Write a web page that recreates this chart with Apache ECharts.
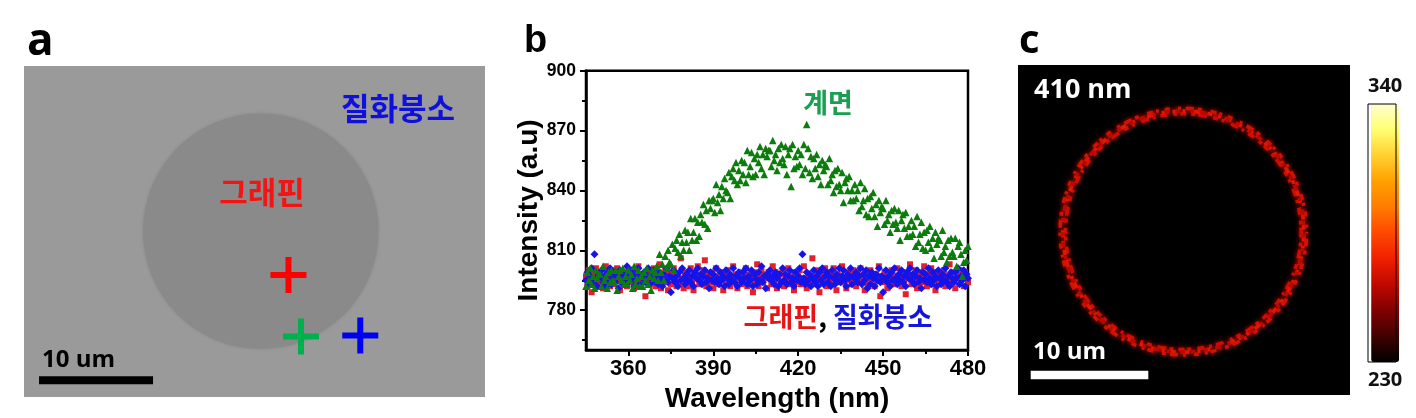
<!DOCTYPE html>
<html>
<head>
<meta charset="utf-8">
<script src="https://cdn.jsdelivr.net/npm/echarts@6/dist/echarts.min.js"></script>
<style>
html,body{margin:0;padding:0;background:#fff;}
#main{width:1416px;height:418px;}
</style>
</head>
<body>
<div id="main"></div>
<script>
// ---------------- Panel b : PL spectra ----------------
const WL_START = 345;   // nm, first sample
const WL_STEP = 0.5;    // nm, sampling step
const xMajorTicks = [360, 390, 420, 450, 480];
const xMinorTicks = [375, 405, 435, 465];
const yMajorTicks = [780, 810, 840, 870, 900];
const yMinorTicks = [765, 795, 825, 855, 885];

// 계면 (interface) intensity
const interfaceIntensity = [
 792,799,795,801,793,797,791,800,796,798,
 798,792,802,795,797,791,799,794,800,795,
 794,800,790,797,800,795,801,793,797,793,
 800,795,798,791,802,793,796,800,792,797,
 792,799,795,801,793,797,790,800,796,799,
 802,795,808,799,803,795,807,801,810,804,
 803,813,800,811,815,809,818,807,814,810,
 820,814,819,810,826,815,819,826,815,824,
 817,828,824,833,823,830,821,835,831,835,
 836,829,843,834,838,830,842,836,846,840,
 839,849,836,847,851,845,854,843,850,845,
 855,848,854,844,860,848,852,859,847,856,
 848,858,854,862,851,858,848,861,857,860,
 860,852,865,855,858,850,861,854,863,856,
 853,862,848,858,861,842,863,851,857,852,
 860,853,858,848,863,851,873,861,849,857,
 846,856,851,858,847,853,843,855,850,853,
 852,843,856,845,848,839,850,842,851,843,
 840,849,834,844,846,840,847,835,840,835,
 843,836,840,830,844,832,835,841,828,836,
 827,837,831,839,827,833,822,835,829,832,
 831,823,835,825,828,819,830,823,831,824,
 821,830,815,825,828,821,829,817,822,817,
 825,818,822,812,827,814,818,824,811,819,
 810,820,814,822,811,816,806,819,813,816,
 815,807,820,809,812,804,815,807,816,809,
 807,816,802,812,814,808,797,804,810,805,
 812
];
// 그래핀 (graphene) intensity
const grapheneIntensity = [
 797,792,800,795,789,798,794,801,796,793,
 799,795,791,797,802,794,798,792,796,800,
 793,797,801,795,790,798,796,794,799,792,
 796,800,794,797,791,799,795,802,793,797,
 794,798,787,796,800,793,797,795,801,792,
 798,795,803,791,797,794,800,796,790,799,
 793,797,801,795,792,798,794,806,796,791,
 799,795,792,797,801,794,790,798,796,802,
 793,797,795,800,805,792,798,796,794,799,
 791,797,801,795,793,799,796,790,798,794,
 800,795,792,797,802,794,798,791,796,799,
 793,797,795,801,792,798,794,796,789,799,
 795,803,792,797,800,794,798,796,791,799,
 797,793,802,795,799,791,796,798,794,800,
 792,797,795,801,793,798,796,790,799,794,
 797,800,793,796,802,795,791,798,794,797,
 806,793,797,800,795,789,798,794,796,801,
 792,797,795,799,793,801,796,790,798,794,
 797,802,794,796,791,799,795,798,793,800,
 795,792,798,796,801,794,797,790,799,793,
 796,800,794,797,792,798,795,802,787,797,
 794,799,796,791,798,795,800,793,797,796,
 801,794,797,792,799,795,788,798,796,803,
 793,797,795,800,791,798,796,794,799,802,
 796,792,798,795,801,793,797,790,799,795,
 798,794,796,800,792,797,795,803,793,799,
 795,791,798,796,800,794,797,792,799,796,
 794
];
// 질화붕소 (hBN) intensity
const hbnIntensity = [
 795,799,793,797,801,794,808,796,792,798,
 796,800,794,797,792,799,795,801,793,797,
 799,794,797,791,800,796,793,798,795,802,
 794,797,800,795,792,798,796,801,793,797,
 796,799,794,797,801,793,798,795,800,794,
 797,793,799,796,792,798,795,801,794,797,
 789,796,800,794,797,792,799,795,801,796,
 793,798,795,800,794,797,792,799,796,801,
 795,798,793,797,800,794,796,791,799,795,
 798,794,801,796,793,799,795,797,792,800,
 796,793,798,795,801,794,797,792,799,796,
 794,799,796,801,793,797,795,800,792,798,
 796,793,799,795,802,794,797,791,798,796,
 800,795,797,793,799,796,792,798,794,801,
 795,798,793,797,800,794,796,792,799,795,
 797,801,794,808,796,793,799,795,798,792,
 796,800,794,797,792,799,795,801,793,797,
 799,794,797,792,800,796,793,798,795,801,
 794,797,800,795,792,798,796,801,793,797,
 796,799,794,797,801,793,798,795,800,791,
 797,793,799,796,792,798,795,801,794,797,
 789,796,800,794,797,792,799,795,801,796,
 793,798,795,800,794,797,792,799,796,801,
 795,798,793,797,800,794,796,791,799,795,
 798,794,801,796,793,799,795,797,792,800,
 796,793,798,795,801,794,797,792,799,796,
 794,799,796,801,793,797,795,800,792,798,
 796
];

// ---------------- Panel a : optical image (um units) ----------------
const imageAWidthUm = 40.44, imageAHeightUm = 29.04;
const grapheneFlake = [[20.77, 14.55, 10.3]];        // cx, cy, radius (um)
const measurePoints = [[23.2, 10.7], [24.3, 5.3], [29.5, 5.4]]; // graphene, interface, hBN
const measureColors = ['#ff0000', '#00b04c', '#0000f0'];
const scaleBarA = [[1.32, 1.46, 10]];                 // x0, y, length (um)

// ---------------- Panel c : PL map at 410 nm ----------------
const imageCWidthUm = 28.23, imageCHeightUm = 28.06;
const ringLayers = [                                   // cx, cy, radius (um), intensity
 [14.06, 13.89, 10.02, 266],
 [14.06, 13.89, 10.25, 272],
 [14.06, 13.89, 10.48, 268],
 [14.06, 13.89, 10.25, 262]
];
const scaleBarC = [[1.08, 1.70, 10]];
const colorbarRange = [230, 340];

const pair = arr => arr.map((v, i) => [WL_START + WL_STEP * i, v]);

const boldLab = 'Liberation Sans';
const chart = echarts.init(document.getElementById('main'), null, {renderer: 'canvas'});

const plus = 'path://M15,0H21V15H36V21H21V36H15V21H0V15H15Z';
const dashes = [
  [6,5,4,3,9,6,5,4,3,7,8,4,3,5,7,6,4,3],
  [4,7,6,4,3,8,9,5,5,6,3,4,7,8],
  [5,8,3,5,8,4,4,9,6,3,3,6],
  [3,9,5,6,4,11,3,7,6,8]
];

const option = {
  animation: false,
  grid: [
    {left: 24, top: 66, width: 461, height: 331, show: true, backgroundColor: '#9a9a9a', borderWidth: 0},
    {left: 586, top: 70.7, width: 382, height: 280.3, show: true, borderColor: '#000', borderWidth: 2.5},
    {left: 1018, top: 65, width: 332, height: 330, show: true, backgroundColor: '#000', borderWidth: 0}
  ],
  xAxis: [
    {gridIndex: 0, type: 'value', min: 0, max: imageAWidthUm, show: false},
    {gridIndex: 1, type: 'value', min: 345, max: 480, position: 'bottom',
      axisLine: {lineStyle: {color: '#000', width: 2.5}},
      axisTick: {show: true, customValues: xMajorTicks, length: 6, lineStyle: {color: '#000', width: 2}},
      axisLabel: {customValues: xMajorTicks, color: '#000', fontSize: 22, fontWeight: 'bold', fontFamily: boldLab, margin: 8},
      splitLine: {show: false},
      name: 'Wavelength (nm)', nameLocation: 'middle', nameGap: 28,
      nameTextStyle: {color: '#000', fontSize: 28, fontWeight: 'bold', fontFamily: boldLab}
    },
    {gridIndex: 1, type: 'value', min: 345, max: 480, position: 'bottom',
      axisLine: {show: false},
      axisTick: {show: true, customValues: xMinorTicks, length: 4, lineStyle: {color: '#000', width: 2}},
      axisLabel: {show: false}, splitLine: {show: false}
    },
    {gridIndex: 2, type: 'value', min: 0, max: imageCWidthUm, show: false}
  ],
  yAxis: [
    {gridIndex: 0, type: 'value', min: 0, max: imageAHeightUm, show: false},
    {gridIndex: 1, type: 'value', min: 760, max: 900, position: 'left',
      axisLine: {show: true, lineStyle: {color: '#000', width: 2.5}},
      axisTick: {show: true, customValues: yMajorTicks, length: 6, lineStyle: {color: '#000', width: 2}},
      axisLabel: {customValues: yMajorTicks, color: '#000', fontSize: 17.5, fontWeight: 'bold', fontFamily: boldLab, margin: 10},
      splitLine: {show: false},
      name: 'Intensity (a.u)', nameLocation: 'middle', nameGap: 43,
      nameTextStyle: {color: '#000', fontSize: 28, fontWeight: 'bold', fontFamily: boldLab}
    },
    {gridIndex: 1, type: 'value', min: 760, max: 900, position: 'left',
      axisLine: {show: false},
      axisTick: {show: true, customValues: yMinorTicks, length: 4, lineStyle: {color: '#000', width: 2}},
      axisLabel: {show: false}, splitLine: {show: false}
    },
    {gridIndex: 2, type: 'value', min: 0, max: imageCHeightUm, show: false}
  ],
  visualMap: [{
    type: 'continuous', min: colorbarRange[0], max: colorbarRange[1],
    seriesIndex: 6, dimension: 3, calculable: false, orient: 'vertical',
    left: 1368, top: 76, itemWidth: 28, itemHeight: 258, padding: 0, textGap: 8,
    text: [String(colorbarRange[1]), String(colorbarRange[0])],
    textStyle: {color: '#111', fontSize: 20, fontWeight: 'bold', fontFamily: 'Open Sans'},
    inRange: {color: ['#000000','#400000','#800000','#c00800','#f02000','#ff4800','#ff7c00','#ffa000','#ffd030','#ffff70','#ffffd0']}
  }],
  series: [
    {type: 'custom', xAxisIndex: 0, yAxisIndex: 0, data: grapheneFlake, silent: true,
      renderItem: (p, api) => {
        const c = api.coord([api.value(0), api.value(1)]);
        const r = api.size([api.value(2), 0])[0];
        return {type: 'circle', shape: {cx: c[0], cy: c[1], r: r},
          style: {fill: '#8a8a8a', shadowBlur: 3, shadowColor: 'rgba(110,110,110,0.6)'}};
      }},
    {type: 'scatter', xAxisIndex: 0, yAxisIndex: 0, symbol: plus, symbolSize: 36, silent: true, z: 5,
      data: measurePoints.map((d, i) => ({value: d, itemStyle: {color: measureColors[i], opacity: 1}}))},
    {type: 'custom', xAxisIndex: 0, yAxisIndex: 0, data: scaleBarA, silent: true,
      renderItem: (p, api) => {
        const c = api.coord([api.value(0), api.value(1)]);
        const w = api.size([api.value(2), 0])[0];
        return {type: 'rect', shape: {x: c[0], y: c[1] - 4, width: w, height: 8}, style: {fill: '#000'}};
      }},
    {type: 'scatter', xAxisIndex: 1, yAxisIndex: 1, symbol: 'rect', symbolSize: 6, silent: true,
      itemStyle: {color: '#e4202c', opacity: 1}, data: pair(grapheneIntensity)},
    {type: 'scatter', xAxisIndex: 1, yAxisIndex: 1, symbol: 'diamond', symbolSize: 8, silent: true,
      itemStyle: {color: '#1414ea', opacity: 1}, data: pair(hbnIntensity)},
    {type: 'scatter', xAxisIndex: 1, yAxisIndex: 1, symbol: 'triangle', symbolSize: 7.5, silent: true,
      itemStyle: {color: '#0c7c0c', opacity: 1}, data: pair(interfaceIntensity)},
    {type: 'custom', xAxisIndex: 3, yAxisIndex: 3, data: ringLayers, silent: true,
      renderItem: (p, api) => {
        const c = api.coord([api.value(0), api.value(1)]);
        const r = api.size([api.value(2), 0])[0];
        const col = api.visual('color');
        return {type: 'circle', shape: {cx: c[0], cy: c[1], r: r},
          style: {fill: 'none', stroke: col, lineWidth: 3.6, lineDash: dashes[p.dataIndex % dashes.length],
            lineDashOffset: p.dataIndex * 7, shadowBlur: 5, shadowColor: col}};
      }},
    {type: 'custom', xAxisIndex: 3, yAxisIndex: 3, data: scaleBarC, silent: true,
      renderItem: (p, api) => {
        const c = api.coord([api.value(0), api.value(1)]);
        const w = api.size([api.value(2), 0])[0];
        return {type: 'rect', shape: {x: c[0], y: c[1] - 4.3, width: w, height: 8.6}, style: {fill: '#fff'}};
      }}
  ],
  graphic: [
    {type: 'text', z: 100, x: 27, y: 42, style: {text: 'a', fill: '#000', font: 'bold 44px "Open Sans"', verticalAlign: 'middle'}},
    {type: 'text', z: 100, x: 524, y: 42, style: {text: 'b', fill: '#000', font: 'bold 38px "Liberation Sans"', verticalAlign: 'middle'}},
    {type: 'text', z: 100, x: 1019, y: 42, style: {text: 'c', fill: '#000', font: 'bold 40px "Open Sans"', verticalAlign: 'middle'}},
    {type: 'text', z: 100, x: 398, y: 108, style: {text: '질화붕소', fill: '#1010dc', font: 'bold 31px "Noto Sans CJK KR"', align: 'center', verticalAlign: 'middle'}},
    {type: 'text', z: 100, x: 262, y: 192, style: {text: '그래핀', fill: '#f41414', font: 'bold 31px "Noto Sans CJK KR"', align: 'center', verticalAlign: 'middle'}},
    {type: 'text', z: 100, x: 42, y: 360, style: {text: '10 um', fill: '#000', font: 'bold 24px "Open Sans"', verticalAlign: 'middle'}},
    {type: 'text', z: 100, x: 828, y: 103, style: {text: '계면', fill: '#18a050', font: 'bold 27px "Noto Sans CJK KR"', align: 'center', verticalAlign: 'middle'}},
    {type: 'text', z: 100, x: 838, y: 317, style: {text: '{r|그래핀}{k|, }{b|질화붕소}', align: 'center', verticalAlign: 'middle',
      rich: {
        r: {fill: '#e81414', fontSize: 27, fontWeight: 'bold', fontFamily: 'Noto Sans CJK KR'},
        k: {fill: '#000', fontSize: 27, fontWeight: 'bold', fontFamily: 'Noto Sans CJK KR'},
        b: {fill: '#1414dc', fontSize: 27, fontWeight: 'bold', fontFamily: 'Noto Sans CJK KR'}
      }}},
    {type: 'text', z: 100, x: 1034, y: 90, style: {text: '410 nm', fill: '#fff', font: 'bold 27px "Open Sans"', verticalAlign: 'middle'}},
    {type: 'text', z: 100, x: 1033, y: 352, style: {text: '10 um', fill: '#fff', font: 'bold 24px "Open Sans"', verticalAlign: 'middle'}},
    {type: 'rect', shape: {x: 1368, y: 104, width: 28, height: 258}, style: {fill: 'none', stroke: '#000', lineWidth: 1}, z: 100}
  ]
};
chart.setOption(option);
</script>
</body>
</html>
